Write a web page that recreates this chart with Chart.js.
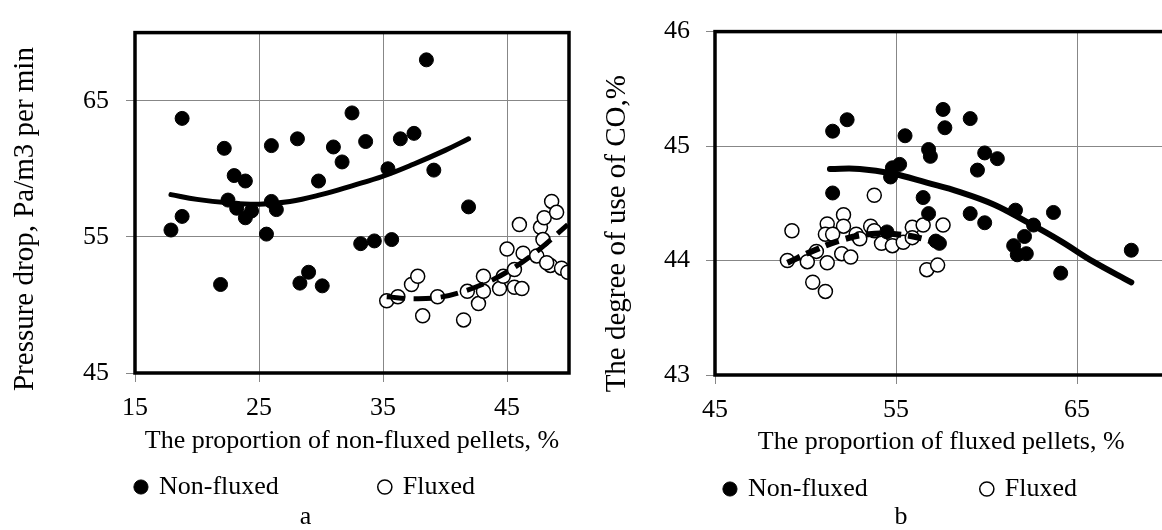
<!DOCTYPE html>
<html>
<head>
<meta charset="utf-8">
<script src="https://cdn.jsdelivr.net/npm/chart.js@4.4.1/dist/chart.umd.min.js"></script>
<style>
  html, body { margin: 0; padding: 0; background: #fff; overflow: hidden; }
  #wrap { position: relative; width: 1162px; height: 530px; overflow: hidden; }
  canvas { position: absolute; top: 0; }
</style>
</head>
<body>
<div id="wrap">
  <canvas id="chartA" width="611" height="530" style="left:0"></canvas>
  <canvas id="chartB" width="642" height="530" style="left:580px"></canvas>
</div>
<script>
Chart.defaults.font.family = '"Liberation Serif", "Times New Roman", serif';
Chart.defaults.color = '#000';

// panel a: pressure drop vs share of non-fluxed pellets
const aNonFluxedX = [17.9, 18.8, 18.8, 21.9, 22.2, 22.5, 23.0, 23.2, 23.9, 23.9, 24.4, 25.6, 26.0, 26.0, 26.4, 28.1, 28.3, 29.0, 29.8, 30.1, 31.0, 31.7, 32.5, 33.2, 33.6, 34.3, 35.4, 35.7, 36.4, 37.5, 38.5, 39.1, 41.9];
const aNonFluxedY = [55.5, 56.5, 63.7, 51.5, 61.5, 57.7, 59.5, 57.1, 59.1, 56.4, 56.9, 55.2, 61.7, 57.6, 57.0, 62.2, 51.6, 52.4, 59.1, 51.4, 61.6, 60.5, 64.1, 54.5, 62.0, 54.7, 60.0, 54.8, 62.2, 62.6, 68.0, 59.9, 57.2];
const aFluxedX = [35.3, 36.2, 37.3, 37.8, 38.2, 39.4, 41.5, 41.8, 42.7, 43.1, 43.1, 44.4, 44.7, 45.0, 45.6, 45.6, 46.2, 46.0, 46.3, 47.4, 47.7, 47.9, 48.0, 48.5, 48.6, 49.0, 49.4, 49.9, 48.2];
const aFluxedY = [50.3, 50.6, 51.5, 52.1, 49.2, 50.6, 48.9, 51.0, 50.1, 52.1, 51.0, 51.2, 52.1, 54.1, 52.6, 51.3, 51.2, 55.9, 53.8, 53.6, 55.7, 54.8, 56.4, 52.9, 57.6, 56.8, 52.7, 52.4, 53.1];
const aNonFluxedTrendX = [17.9, 20.0, 22.5, 25.0, 27.5, 30.0, 32.5, 35.0, 37.5, 40.0, 41.9];
const aNonFluxedTrendY = [58.1, 57.75, 57.5, 57.4, 57.6, 58.1, 58.75, 59.45, 60.35, 61.35, 62.2];
const aFluxedTrendX = [35.3, 37.5, 39.5, 41.5, 43.5, 45.5, 47.5, 49.9];
const aFluxedTrendY = [50.6, 50.45, 50.55, 51.0, 51.7, 52.7, 54.0, 55.9];
const aXTicks = [15, 25, 35, 45];
const aYTicks = [45, 55, 65];

// panel b: degree of CO use vs share of fluxed pellets
const bNonFluxedX = [51.5, 52.3, 51.5, 54.5, 55.5, 54.8, 55.2, 54.7, 57.6, 57.7, 59.1, 56.8, 56.9, 59.9, 60.6, 59.5, 56.5, 56.8, 59.1, 59.9, 61.6, 63.7, 62.6, 62.1, 61.5, 61.7, 62.2, 64.1, 68.0, 57.2, 57.4];
const bNonFluxedY = [45.13, 45.23, 44.59, 44.25, 45.09, 44.81, 44.84, 44.73, 45.32, 45.16, 45.24, 44.97, 44.91, 44.94, 44.89, 44.79, 44.55, 44.41, 44.41, 44.33, 44.44, 44.42, 44.31, 44.21, 44.13, 44.05, 44.06, 43.89, 44.09, 44.17, 44.15];
const bFluxedX = [49.25, 49.0, 50.1, 51.2, 52.0, 52.5, 51.2, 51.1, 52.1, 52.1, 51.5, 52.8, 53.0, 53.6, 53.8, 54.2, 53.8, 50.6, 50.4, 51.1, 54.8, 55.4, 55.9, 55.9, 56.5, 57.6, 56.7, 57.3];
const bFluxedY = [44.26, 44.0, 43.99, 43.98, 44.06, 44.03, 44.32, 44.23, 44.40, 44.30, 44.23, 44.23, 44.19, 44.30, 44.26, 44.15, 44.57, 44.08, 43.81, 43.73, 44.13, 44.16, 44.29, 44.2, 44.31, 44.31, 43.92, 43.96];
const bNonFluxedTrendX = [51.35, 53.0, 54.8, 56.7, 58.5, 60.4, 62.2, 64.1, 65.9, 68.0];
const bNonFluxedTrendY = [44.80, 44.80, 44.76, 44.68, 44.60, 44.49, 44.34, 44.17, 43.99, 43.81];
const bFluxedTrendX = [49.0, 50.5, 52.0, 53.5, 55.0, 56.5, 57.7];
const bFluxedTrendY = [43.98, 44.09, 44.18, 44.23, 44.23, 44.19, 44.12];
const bXTicks = [45, 55, 65];
const bYTicks = [43, 44, 45, 46];

const seriesNames = ['Non-fluxed', 'Fluxed'];
const GRID = '#878787';

const toPoints = (xs, ys) => xs.map((x, i) => ({ x: x, y: ys[i] }));

// thick frame round the plot area
const framePlugin = {
  id: 'frame',
  afterDatasetsDraw: chart => {
    const ctx = chart.ctx, a = chart.chartArea;
    ctx.save();
    ctx.strokeStyle = '#000';
    ctx.lineWidth = 3.5;
    ctx.strokeRect(a.left, a.top, a.right - a.left, a.bottom - a.top);
    ctx.restore();
  }
};

const createPanel = function createPanel(id, p) {
  return new Chart(document.getElementById(id), {
    type: 'scatter',
    plugins: [framePlugin],
    data: {
      datasets: [{
        label: 'trend1',
        data: toPoints(p.nfTrendX, p.nfTrendY),
        showLine: true,
        borderColor: '#000',
        borderWidth: p.lineWidth,
        borderCapStyle: 'round',
        pointRadius: 0,
        tension: 0.4,
        order: 0
      }, {
        label: 'trend2',
        data: toPoints(p.fTrendX, p.fTrendY),
        showLine: true,
        borderColor: '#000',
        borderWidth: p.lineWidth,
        borderDash: p.dash,
        pointRadius: 0,
        tension: 0.4,
        order: 0
      }, {
        label: seriesNames[0],
        data: toPoints(p.nfX, p.nfY),
        backgroundColor: '#000',
        borderColor: '#000',
        borderWidth: 1,
        pointRadius: 7,
        pointStyle: 'circle',
        order: 1
      }, {
        label: seriesNames[1],
        data: toPoints(p.fX, p.fY),
        backgroundColor: '#fff',
        borderColor: '#000',
        borderWidth: 1.5,
        pointRadius: 7,
        pointStyle: 'circle',
        order: 2
      }]
    },
    options: {
      responsive: false,
      animation: false,
      events: [],
      layout: { padding: { top: p.top, bottom: 0, left: 0, right: 0 } },
      plugins: {
        tooltip: { enabled: false },
        legend: {
          position: 'bottom',
          labels: {
            usePointStyle: true,
            boxWidth: 10,
            boxHeight: 10,
            padding: 10,
            font: { size: 26 },
            generateLabels: chart => Chart.defaults.plugins.legend.labels.generateLabels(chart)
              .filter(item => !chart.data.datasets[item.datasetIndex].showLine)
              .map((item, i) => {
                if (i === 0) item.text += p.legendGap;
                return item;
              })
          }
        },
        title: {
          display: true,
          position: 'bottom',
          text: p.letter,
          color: '#000',
          font: { size: 26, weight: 'normal', lineHeight: p.letterLh },
          padding: { top: p.letterTop, bottom: p.letterBottom }
        }
      },
      scales: {
        x: {
          min: p.xMin,
          max: p.xMax,
          afterBuildTicks: axis => { axis.ticks = p.xTicks.map(v => ({ value: v })); },
          afterFit: s => { s.height = 91; },
          border: { display: false },
          grid: { color: GRID, tickColor: GRID, tickLength: 9 },
          ticks: { font: { size: 26 }, padding: 11, maxRotation: 0, autoSkip: false },
          title: { display: true, text: p.xTitle, font: { size: 26 }, padding: { top: 0, bottom: p.xTitleBottom } }
        },
        y: {
          min: p.yMin,
          max: p.yMax,
          afterBuildTicks: axis => { axis.ticks = p.yTicks.map(v => ({ value: v })); },
          afterFit: s => { s.width = 135; },
          border: { display: false },
          grid: { color: GRID, tickColor: GRID, tickLength: 9 },
          ticks: { font: { size: 26 }, padding: p.yTickPad, autoSkip: false },
          title: { display: true, text: p.yTitle, align: 'end', font: { size: 29 }, padding: { top: p.yTitleTop, bottom: 0 } }
        },
        y2: {
          position: 'right',
          grid: { display: false },
          border: { display: false },
          ticks: { display: false },
          afterFit: s => { s.width = p.rightGap; }
        }
      }
    }
  });
}

createPanel('chartA', {
  nfX: aNonFluxedX, nfY: aNonFluxedY, fX: aFluxedX, fY: aFluxedY,
  nfTrendX: aNonFluxedTrendX, nfTrendY: aNonFluxedTrendY,
  fTrendX: aFluxedTrendX, fTrendY: aFluxedTrendY,
  xMin: 15, xMax: 50, yMin: 45, yMax: 70, xTicks: aXTicks, yTicks: aYTicks,
  xTitle: 'The proportion of non-fluxed pellets, %',
  yTitle: 'Pressure drop, Pa/m3 per min  ',
  letter: 'a', letterLh: 0.5, letterTop: 0.5, letterBottom: 6.5,
  top: 17, rightGap: 42, lineWidth: 5, dash: [18, 9],
  legendGap: '\u2003\u2003\u2003  ',
  xTitleBottom: 7.4, yTickPad: 17, yTitleTop: 8.3
});

createPanel('chartB', {
  nfX: bNonFluxedX, nfY: bNonFluxedY, fX: bFluxedX, fY: bFluxedY,
  nfTrendX: bNonFluxedTrendX, nfTrendY: bNonFluxedTrendY,
  fTrendX: bFluxedTrendX, fTrendY: bFluxedTrendY,
  xMin: 45, xMax: 70, yMin: 43, yMax: 46, xTicks: bXTicks, yTicks: bYTicks,
  xTitle: 'The proportion of fluxed pellets, %',
  yTitle: 'The degree of use of CO,%      ',
  letter: 'b', letterLh: 0.4, letterTop: 0, letterBottom: 7.6,
  top: 22, rightGap: 54.5, lineWidth: 6, dash: [14, 7],
  legendGap: '\u2003\u2003\u2003\u2003',
  xTitleBottom: 8.4, yTickPad: 16, yTitleTop: 19.6
});
</script>
</body>
</html>
